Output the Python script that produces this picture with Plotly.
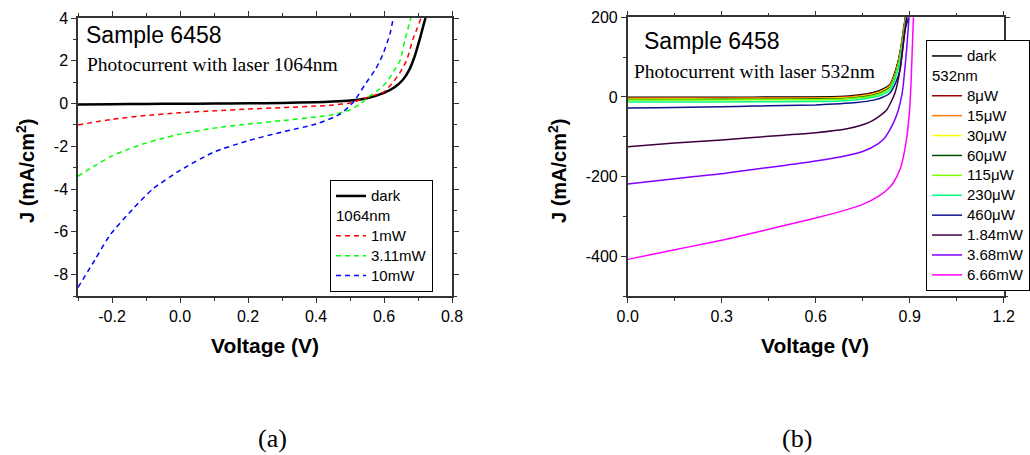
import plotly.graph_objects as go

# ---------------- Panel (a): 1064 nm ----------------
dark_a_v = [-0.3, -0.2, -0.1, 0.0, 0.1, 0.2, 0.3, 0.4, 0.45, 0.5, 0.55, 0.6, 0.63, 0.655, 0.675, 0.69, 0.705, 0.715, 0.722]
dark_a_j = [-0.04, -0.03, -0.02, -0.01, 0.0, 0.01, 0.03, 0.06, 0.09, 0.14, 0.25, 0.5, 0.75, 1.1, 1.6, 2.2, 3.0, 3.6, 4.0]

red_a_v = [-0.3, -0.2, -0.1, 0.0, 0.1, 0.2, 0.3, 0.4, 0.45, 0.5, 0.54, 0.57, 0.6, 0.627, 0.647, 0.666, 0.685, 0.697, 0.709]
red_a_j = [-1.0, -0.74, -0.56, -0.43, -0.34, -0.26, -0.19, -0.12, -0.07, 0.03, 0.22, 0.38, 0.55, 1.0, 1.45, 2.0, 3.0, 3.5, 4.0]

green_a_v = [-0.3, -0.25, -0.2, -0.15, -0.1, -0.05, 0.0, 0.1, 0.2, 0.3, 0.4, 0.45, 0.5, 0.53, 0.55, 0.58, 0.608, 0.628, 0.647, 0.662, 0.679]
green_a_j = [-3.4, -2.9, -2.45, -2.12, -1.85, -1.62, -1.43, -1.15, -0.96, -0.8, -0.63, -0.52, -0.3, -0.02, 0.25, 0.6, 1.0, 1.5, 2.0, 3.0, 4.0]

blue_a_v = [-0.3, -0.25, -0.206, -0.137, -0.079, 0.0, 0.098, 0.2, 0.303, 0.4, 0.47, 0.509, 0.548, 0.575, 0.596, 0.618, 0.627]
blue_a_j = [-8.6, -7.3, -6.15, -4.9, -3.98, -3.13, -2.28, -1.74, -1.32, -0.96, -0.5, 0.05, 0.98, 1.6, 2.27, 3.28, 4.0]

# ---------------- Panel (b): 532 nm ----------------
vb_small = [0, 0.2, 0.4, 0.6, 0.678, 0.73, 0.784, 0.81, 0.837, 0.85, 0.864, 0.872, 0.88, 0.886, 0.895]
dark_b_j = [-1, -0.8, -0.5, 0, 1, 4, 11, 18, 31, 55, 93, 125, 168, 200, 270]
p8_j = [-2.5, -2.3, -2, -1.5, -0.5, 2.5, 9, 16, 29, 52, 90, 121, 164, 196, 265]
p15_j = [-3.5, -3.3, -3, -2.5, -1.5, 1.5, 8, 15, 28, 50, 88, 119, 161, 193, 262]
p30_j = [-5, -4.8, -4.5, -4, -3, 0, 6.5, 13, 26, 48, 85, 116, 158, 190, 258]
p60_j = [-6.5, -6.2, -6, -5.5, -4.5, -1.5, 5, 11.5, 24, 46, 82, 113, 155, 187, 255]
p115_j = [-8, -7.7, -7.4, -7, -6, -3, 3, 9.5, 22, 43, 79, 110, 151, 183, 250]
p230_j = [-13, -12.7, -12.3, -11.5, -10, -7, -1, 5, 17, 38, 72, 103, 143, 175, 242]

p460_v = [0, 0.1, 0.2, 0.3, 0.4, 0.5, 0.6, 0.678, 0.73, 0.784, 0.81, 0.837, 0.855, 0.869, 0.885, 0.896, 0.905]
p460_j = [-28, -27, -26, -24.5, -23, -21.5, -20, -17, -14, -8, -2, 10, 35, 68, 168, 200, 270]

p1840_v = [0, 0.1, 0.2, 0.3, 0.4, 0.5, 0.6, 0.7, 0.75, 0.78, 0.8, 0.827, 0.853, 0.869, 0.885, 0.89, 0.9]
p1840_j = [-125, -119, -113, -108, -102, -96, -90, -80, -70, -60, -50, -32, 10, 68, 168, 200, 280]

p3680_v = [0, 0.1, 0.2, 0.3, 0.4, 0.5, 0.6, 0.7, 0.75, 0.8, 0.82, 0.837, 0.85, 0.864, 0.875, 0.88, 0.89, 0.898, 0.905]
p3680_j = [-219, -210, -201, -193, -182, -172, -161, -147, -137, -117, -103, -82, -62, -32, 5, 34, 118, 200, 270]

p6660_v = [0, 0.1, 0.2, 0.3, 0.4, 0.5, 0.6, 0.7, 0.75, 0.8, 0.83, 0.85, 0.87, 0.88, 0.89, 0.9, 0.905, 0.91, 0.915]
p6660_j = [-408, -392, -376, -360, -342, -323, -304, -283, -270, -250, -232, -213, -180, -150, -105, -30, 50, 160, 260]

a_names = ["1mW", "3.11mW", "10mW"]
a_colors = ["#FF0000", "#00FF00", "#0000FF"]
b_names = ["8μW", "15μW", "30μW", "60μW", "115μW", "230μW", "460μW", "1.84mW", "3.68mW", "6.66mW"]
b_colors = ["#990000", "#FF8000", "#FFFF00", "#005000", "#80FF00", "#00FF80",
            "#10108C", "#400040", "#8000FF", "#FF00FF"]

SANS = "Liberation Sans, Arial, sans-serif"
SERIF = "Liberation Serif, Times New Roman, serif"


def lg(t):
    # legend text drawn at 15px while the row pitch follows the 13px legend font
    return "<span style='font-size:15px'>" + t + "</span>"


fig = go.Figure()

# Panel a traces
fig.add_trace(go.Scatter(x=dark_a_v, y=dark_a_j, mode="lines", name=lg("dark"),
                         line=dict(color="black", width=2.5, shape="spline", smoothing=0.6),
                         xaxis="x", yaxis="y", legend="legend", legendgroup="dark_a"))
for name, col, vx, jy in zip(a_names, a_colors,
                             [red_a_v, green_a_v, blue_a_v], [red_a_j, green_a_j, blue_a_j]):
    fig.add_trace(go.Scatter(x=vx, y=jy, mode="lines", name=lg(name),
                             line=dict(color=col, width=1.5, dash="5px,4px", shape="spline", smoothing=0.6),
                             xaxis="x", yaxis="y", legend="legend",
                             legendgroup="g1064",
                             legendgrouptitle=dict(text=lg("1064nm"), font=dict(family=SANS, size=13, color="black"))))

# Panel b traces
b_v = [vb_small] * 6 + [p460_v, p1840_v, p3680_v, p6660_v]
b_j = [p8_j, p15_j, p30_j, p60_j, p115_j, p230_j, p460_j, p1840_j, p3680_j, p6660_j]

fig.add_trace(go.Scatter(x=vb_small, y=dark_b_j, mode="lines", name=lg("dark"),
                         line=dict(color="black", width=1.5, shape="spline", smoothing=0.6),
                         xaxis="x2", yaxis="y2", legend="legend2", legendgroup="dark_b", legendrank=1))
for i, (name, col, vx, jy) in enumerate(zip(b_names, b_colors, b_v, b_j)):
    fig.add_trace(go.Scatter(x=vx, y=jy, mode="lines", name=lg(name),
                             line=dict(color=col, width=1.5, shape="spline", smoothing=0.6),
                             xaxis="x2", yaxis="y2", legend="legend2",
                             legendgroup="g532", legendrank=10 + i,
                             legendgrouptitle=dict(text=lg("532nm"), font=dict(family=SANS, size=13, color="black"))))

axis_common = dict(showline=True, linecolor="#333333", linewidth=1.5, mirror="allticks",
                   ticks="outside", ticklen=5, tickwidth=1.2, tickcolor="#333333",
                   showgrid=False, zeroline=False,
                   tickfont=dict(family=SANS, size=16, color="black"))

legend_common = dict(xanchor="left", yanchor="top", xref="container", yref="container",
                     bgcolor="white", bordercolor="black", borderwidth=1,
                     font=dict(family=SANS, size=13, color="black"),
                     tracegroupgap=0, traceorder="grouped", itemwidth=30, maxheight=0.95)

fig.update_layout(
    width=1030, height=455, autosize=False,
    margin=dict(l=0, r=0, t=0, b=0, autoexpand=False),
    paper_bgcolor="white", plot_bgcolor="white",
    xaxis=dict(domain=[78 / 1030, 452 / 1030], range=[-0.3, 0.8], tickvals=[-0.2, 0.0, 0.2, 0.4, 0.6, 0.8],
               ticktext=["-0.2", "0.0", "0.2", "0.4", "0.6", "0.8"],
               minor=dict(dtick=0.1, ticks="outside", ticklen=3, tickcolor="#333333"),
               anchor="y", **axis_common),
    yaxis=dict(domain=[159 / 455, 437 / 455], range=[-9, 4], tickvals=[-8, -6, -4, -2, 0, 2, 4],
               ticktext=["-8", "-6", "-4", "-2", "0", "2", "4"],
               minor=dict(dtick=1, ticks="outside", ticklen=3, tickcolor="#333333"),
               anchor="x", **axis_common),
    xaxis2=dict(domain=[627.7 / 1030, 1003.7 / 1030], range=[0, 1.2], tickvals=[0.0, 0.3, 0.6, 0.9, 1.2],
                ticktext=["0.0", "0.3", "0.6", "0.9", "1.2"],
                minor=dict(dtick=0.15, ticks="outside", ticklen=3, tickcolor="#333333"),
                anchor="y2", **axis_common),
    yaxis2=dict(domain=[159 / 455, 437.7 / 455], range=[-500, 200], tickvals=[-400, -200, 0, 200],
                ticktext=["-400", "-200", "0", "200"],
                minor=dict(dtick=100, ticks="outside", ticklen=3, tickcolor="#333333"),
                anchor="x2", **axis_common),
    legend=dict(x=330 / 1030, y=1 - 180 / 455, **legend_common),
    legend2=dict(x=926 / 1030, y=1 - 40 / 455, **legend_common),
    showlegend=True,
)

ann = [
    dict(text="Sample 6458", x=84, y=35, font=dict(family=SANS, size=23, color="black"), xanchor="left"),
    dict(text="Photocurrent with laser 1064nm", x=85, y=65, font=dict(family=SERIF, size=19.5, color="black"), xanchor="left"),
    dict(text="Sample 6458", x=642, y=41, font=dict(family=SANS, size=23, color="black"), xanchor="left"),
    dict(text="Photocurrent with laser 532nm", x=632, y=71, font=dict(family=SERIF, size=19.5, color="black"), xanchor="left"),
    dict(text="<b>Voltage (V)</b>", x=265, y=345, font=dict(family=SANS, size=21, color="black"), xanchor="center"),
    dict(text="<b>Voltage (V)</b>", x=815, y=345, font=dict(family=SANS, size=21, color="black"), xanchor="center"),
    dict(text="<b>J (mA/cm<sup>2</sup>)</b>", x=25, y=171, textangle=-90, font=dict(family=SANS, size=20, color="black"), xanchor="center"),
    dict(text="<b>J (mA/cm<sup>2</sup>)</b>", x=557, y=171, textangle=-90, font=dict(family=SANS, size=20, color="black"), xanchor="center"),
    dict(text="(a)", x=272, y=438, font=dict(family=SERIF, size=26, color="black"), xanchor="center"),
    dict(text="(b)", x=797, y=438, font=dict(family=SERIF, size=26, color="black"), xanchor="center"),
]
for a in ann:
    a["x"] = a["x"] / 1030
    a["y"] = 1 - a["y"] / 455
    fig.add_annotation(xref="paper", yref="paper", yanchor="middle", showarrow=False, **a)

fig.write_html("out.html", config={"displayModeBar": False},
               post_script="document.body.style.margin='0';document.body.style.overflow='hidden';")
